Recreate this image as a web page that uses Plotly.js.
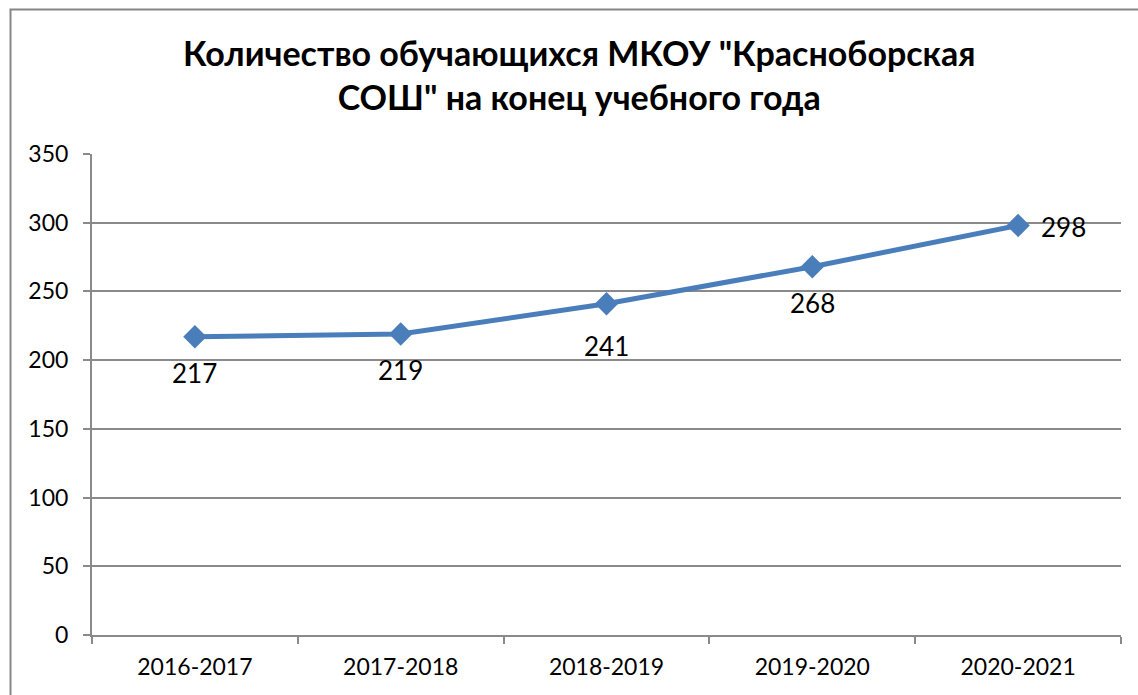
<!DOCTYPE html>
<html>
<head>
<meta charset="utf-8">
<script src="https://cdn.plot.ly/plotly-3.0.1.min.js"></script>
<style>html,body{margin:0;padding:0;background:#fff;}#chart{width:1138px;height:695px;}</style>
</head>
<body>
<div id="chart"></div>
<script>
const years = ["2016-2017", "2017-2018", "2018-2019", "2019-2020", "2020-2021"];
const students = [217, 219, 241, 268, 298];
const yTicks = [0, 50, 100, 150, 200, 250, 300, 350];

const FONT = "Lato, 'Open Sans', sans-serif";
const GRID = "#8a8a8a";

const trace = {
  type: "scatter",
  mode: "lines+markers",
  x: years,
  y: students,
  line: {color: "#4a7ebb", width: 5},
  marker: {symbol: "diamond", size: 18, color: "#4a7ebb"},
  cliponaxis: false,
  hoverinfo: "x+y"
};

// data labels: below the point, except the last one which sits to the right
const annotations = students.map((v, i) => {
  const last = i === students.length - 1;
  return {
    x: years[i], y: v, xref: "x", yref: "y",
    text: String(v), showarrow: false,
    font: {family: FONT, size: 26, color: "#000"},
    xanchor: "center", yanchor: "middle",
    xshift: last ? 45 : 0,
    yshift: last ? -2 : (i === 2 ? -42 : -36)
  };
});

const layout = {
  width: 1138,
  height: 695,
  margin: {l: 92, r: 17, t: 154, b: 60},
  paper_bgcolor: "#fff",
  plot_bgcolor: "#fff",
  showlegend: false,
  font: {family: FONT, color: "#000"},
  title: {
    text: "<b>Количество обучающихся МКОУ \"Красноборская<br>СОШ\" на конец учебного года</b>",
    font: {family: FONT, size: 34, color: "#000"},
    x: 0.509, xanchor: "center",
    y: 1 - 66/695, yanchor: "middle",
    yref: "container", xref: "container"
  },
  xaxis: {
    type: "category",
    range: [-0.5, 4.5],
    showgrid: false,
    showline: true, linecolor: GRID, linewidth: 2,
    ticks: "outside", tickson: "boundaries", ticklen: 7, tickcolor: GRID, tickwidth: 2,
    ticklabelstandoff: 10,
    tickfont: {family: FONT, size: 23, color: "#000"},
    zeroline: false,
    fixedrange: true
  },
  yaxis: {
    range: [0, 350],
    tickvals: yTicks,
    ticktext: yTicks.map(String),
    showgrid: true, gridcolor: GRID, gridwidth: 2,
    showline: true, linecolor: GRID, linewidth: 2,
    ticks: "outside", ticklen: 7, tickcolor: GRID, tickwidth: 2,
    ticklabelstandoff: 10,
    tickfont: {family: FONT, size: 23, color: "#000"},
    zeroline: false,
    fixedrange: true
  },
  annotations: annotations,
  shapes: [{
    type: "rect", xref: "paper", yref: "paper",
    x0: (10.5 - 92) / 1029, x1: (1145 - 92) / 1029,
    y0: (635 - 705) / 481, y1: (635 - 9.5) / 481,
    line: {color: "#868686", width: 2},
    fillcolor: "rgba(0,0,0,0)",
    layer: "below"
  }]
};

Plotly.newPlot("chart", [trace], layout, {displayModeBar: false, staticPlot: true});
</script>
</body>
</html>
